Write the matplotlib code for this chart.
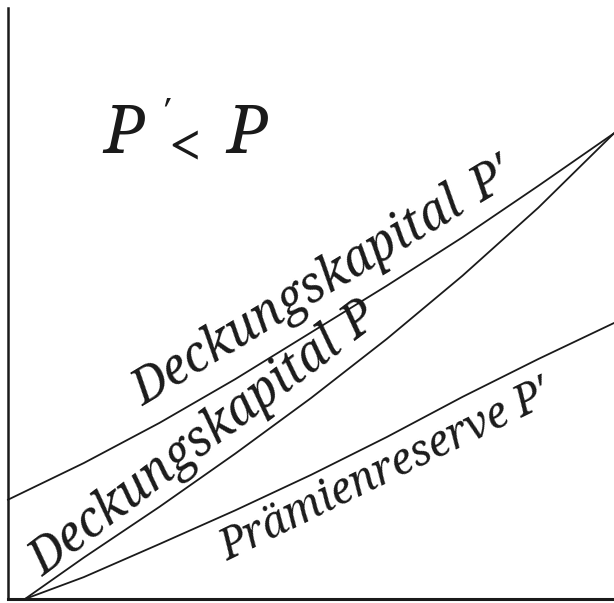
import matplotlib
matplotlib.use("Agg")
import matplotlib.pyplot as plt
import math

# --- data (x: time, y: reserve, arbitrary units 0..100) ---
x_grid = [0, 12.5, 25, 37.5, 50, 62.5, 75, 87.5, 100]
deckung_p_strich = [16.8, 23.0, 29.8, 37.2, 45.1, 53.0, 61.2, 69.9, 78.8]

x_start = [2.8, 12.5, 25, 37.5, 50, 62.5, 75, 87.5, 100]
deckung_p = [0.0, 7.0, 15.6, 24.6, 34.0, 44.0, 54.7, 66.2, 78.8]
praemienreserve_p_strich = [0.0, 3.7, 9.3, 15.0, 21.0, 27.4, 34.2, 40.6, 46.7]

label_upper = ["Deckungskapital", "P\u2032"]
label_middle = ["Deckungskapital", "P"]
label_lower = ["Pr\u00e4mienreserve", "P\u2032"]

W, H = 614, 603
fig = plt.figure(figsize=(W / 100, H / 100), dpi=100)
ax = fig.add_axes([8 / W, 4 / H, 606 / W, 591 / H])
ax.set_xlim(0, 100)
ax.set_ylim(0, 100)

ink = "#1a1a1a"
lw = 1.3
ax.plot(x_grid, deckung_p_strich, color=ink, lw=lw, clip_on=False)
ax.plot(x_start, deckung_p, color=ink, lw=lw, clip_on=False)
ax.plot(x_start, praemienreserve_p_strich, color=ink, lw=lw, clip_on=False)

for s in ["top", "right"]:
    ax.spines[s].set_visible(False)
ax.spines["left"].set_linewidth(1.8)
ax.spines["bottom"].set_linewidth(2.2)
ax.spines["left"].set_color(ink)
ax.spines["bottom"].set_color(ink)
ax.set_xticks([])
ax.set_yticks([])


def px(xp, yp):
    return (xp - 8) / 6.06, (599 - yp) / 5.91


font = dict(family="Noto Serif", style="italic", color=ink)


def label(parts, p0, p1, size):
    """word at p0 (baseline start), symbol at p1, both pixel positions"""
    ang = math.degrees(math.atan2(p0[1] - p1[1], p1[0] - p0[0]))
    for word, p in zip(parts, (p0, p1)):
        x0, y0 = px(*p)
        ax.text(x0, y0, word, rotation=ang, rotation_mode="anchor",
                ha="left", va="baseline", fontsize=size, **font)


label(label_upper, (143, 407), (482, 203), 35)
label(label_middle, (43, 577), (356, 341), 35)
label(label_lower, (228, 561), (522, 418), 31)

# P' < P
x0, y0 = px(103, 153)
ax.text(x0, y0, "P", ha="left", va="baseline", fontsize=48, **font)
x0, y0 = px(160, 124)
ax.text(x0, y0, "\u2032", ha="left", va="baseline", fontsize=26, **font)
x0, y0 = px(168, 166)
ax.text(x0, y0, "<", ha="left", va="baseline", fontsize=42,
        family="Noto Serif", color=ink)
x0, y0 = px(226, 153)
ax.text(x0, y0, "P", ha="left", va="baseline", fontsize=48, **font)

fig.savefig("out.png", dpi=100, facecolor="white")
